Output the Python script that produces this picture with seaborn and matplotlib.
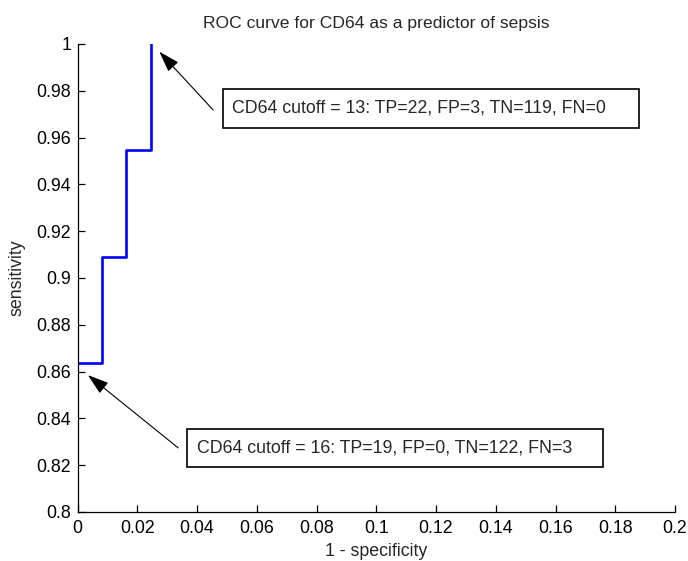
import matplotlib
matplotlib.use("Agg")
import matplotlib.pyplot as plt
from matplotlib.patches import Rectangle
import seaborn as sns
import pandas as pd

# Data
fpr = [0.0, 0.0082, 0.0164, 0.0246]
tpr = [0.8636, 0.9091, 0.9545, 1.0]
xticks = [0, 0.02, 0.04, 0.06, 0.08, 0.1, 0.12, 0.14, 0.16, 0.18, 0.2]
yticks = [0.8, 0.82, 0.84, 0.86, 0.88, 0.9, 0.92, 0.94, 0.96, 0.98, 1.0]
title = "ROC curve for CD64 as a predictor of sepsis"
note_top = "CD64 cutoff = 13: TP=22, FP=3, TN=119, FN=0"
note_bottom = "CD64 cutoff = 16: TP=19, FP=0, TN=122, FN=3"

sns.set_style("white")
plt.rcParams['font.family'] = ['Liberation Sans', 'DejaVu Sans']

fig = plt.figure(figsize=(6.88, 5.61), dpi=100)
ax = fig.add_axes([77.5 / 688, (561 - 512) / 561, 597.5 / 688, 468 / 561])

df = pd.DataFrame({"fpr": fpr, "tpr": tpr})
sns.lineplot(data=df, x="fpr", y="tpr", ax=ax, color=(0, 0, 1), lw=1.9,
             drawstyle="steps-post", estimator=None, sort=False)

ax.set_xlim(0, 0.2)
ax.set_ylim(0.8, 1.0)
ax.set_xticks(xticks)
ax.set_yticks(yticks)
ax.set_xticklabels([f"{v:g}" for v in xticks])
ax.set_yticklabels([f"{v:g}" for v in yticks])
ax.tick_params(direction="in", length=5, width=0.9, labelsize=12.8, colors="black",
               left=True, bottom=True)
ax.tick_params(axis="y", pad=4.5)
ax.tick_params(axis="x", pad=6)
for s in ["top", "right"]:
    ax.spines[s].set_visible(False)
for s in ["left", "bottom"]:
    ax.spines[s].set_color("black")
    ax.spines[s].set_linewidth(0.9)

ax.set_title(title, fontsize=12.6, pad=11.5)
ax.set_xlabel("1 - specificity", fontsize=12.8, va="top")
ax.xaxis.set_label_coords(0.5, -0.066)
ax.set_ylabel("sensitivity", fontsize=12.8)
ax.yaxis.set_label_coords(-0.087, 0.5)

arrow = dict(arrowstyle="-|>,head_length=1.3,head_width=0.42", color="black",
             lw=0.8, shrinkA=0, shrinkB=0)

# top annotation
ax.annotate("", xy=(0.0274, 0.9967), xytext=(0.0454, 0.9718), arrowprops=arrow)
ax.add_patch(Rectangle((0.04864, 0.9641), 0.1881 - 0.04864, 0.98077 - 0.9641,
                       fc="white", ec="black", lw=1.2, clip_on=False, zorder=3))
ax.text(0.05176, 0.97081, note_top, fontsize=12.8, va="baseline", ha="left", zorder=4)

# bottom annotation
ax.annotate("", xy=(0.0035, 0.8585), xytext=(0.0337, 0.8274), arrowprops=arrow)
ax.add_patch(Rectangle((0.03668, 0.81923), 0.17605 - 0.03668, 0.83547 - 0.81923,
                       fc="white", ec="black", lw=1.2, clip_on=False, zorder=3))
ax.text(0.03993, 0.82534, note_bottom, fontsize=12.8, va="baseline", ha="left", zorder=4)

fig.savefig("out.png", dpi=100, facecolor="white")
